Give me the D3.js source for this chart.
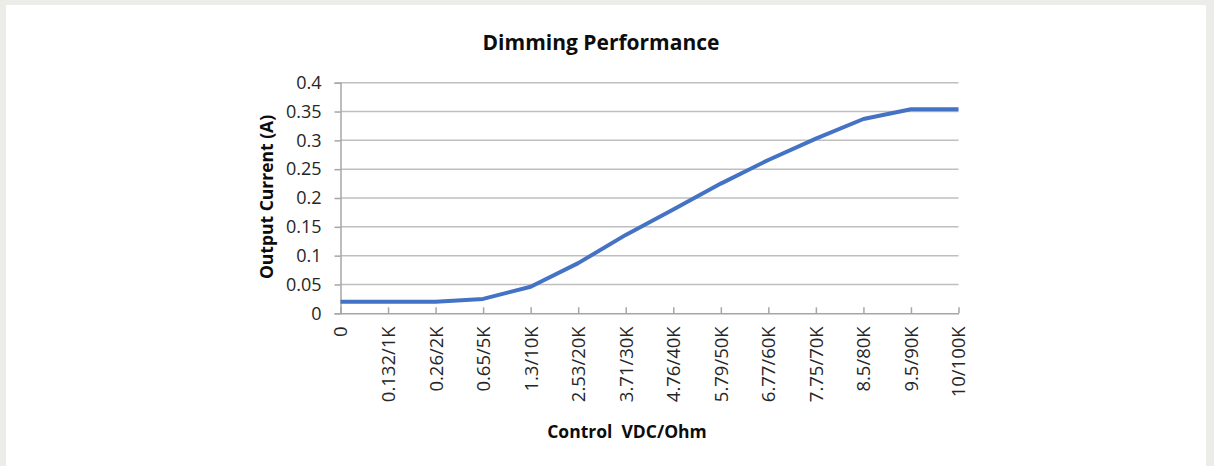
<!DOCTYPE html>
<html>
<head>
<meta charset="utf-8">
<script src="https://cdn.jsdelivr.net/npm/d3@7"></script>
<style>
  html, body { margin: 0; padding: 0; background: #ecece8; }
  text { font-family: "Open Sans", "Noto Sans", sans-serif; }
</style>
</head>
<body>
<div id="chart"></div>
<script>
// Data
var categories = ["0", "0.132/1K", "0.26/2K", "0.65/5K", "1.3/10K", "2.53/20K", "3.71/30K",
                  "4.76/40K", "5.79/50K", "6.77/60K", "7.75/70K", "8.5/80K", "9.5/90K", "10/100K"];
var outputCurrent = [0.02, 0.02, 0.02, 0.025, 0.046, 0.087, 0.136,
                     0.18, 0.225, 0.266, 0.303, 0.337, 0.354, 0.354];
var yTicks = [0, 0.05, 0.1, 0.15, 0.2, 0.25, 0.3, 0.35, 0.4];

var svgWidth = 1214;
var svgHeight = 466;
var plotLeft = 340.5, plotRight = 958.5, plotTop = 82.7, plotBottom = 313.3;

var svg = d3.select("#chart")
            .append("svg")
            .attr("width", svgWidth)
            .attr("height", svgHeight)
            .style("display", "block");

// panel
svg.append("rect")
   .attr("x", 0).attr("y", 0)
   .attr("width", svgWidth).attr("height", svgHeight)
   .attr("fill", "#ecece8");
svg.append("rect")
   .attr("x", 6).attr("y", 5)
   .attr("width", 1200).attr("height", svgHeight - 5)
   .attr("fill", "#ffffff");

// scales
var xScale = d3.scalePoint()
               .domain(categories)
               .range([plotLeft, plotRight])
               .padding(0);

var yScale = d3.scaleLinear()
               .domain([0, 0.4])
               .range([plotBottom, plotTop]);

// gridlines
svg.append("g")
   .selectAll("line")
   .data(yTicks.slice(1))
   .enter()
   .append("line")
   .attr("x1", plotLeft)
   .attr("x2", plotRight)
   .attr("y1", function(d) { return yScale(d); })
   .attr("y2", function(d) { return yScale(d); })
   .attr("stroke", "#bfbfbf")
   .attr("stroke-width", 1.5);

// y axis
var yAxis = svg.append("g")
   .attr("transform", "translate(" + plotLeft + ",0)")
   .call(d3.axisLeft(yScale)
           .tickValues(yTicks)
           .tickSize(6)
           .tickPadding(13)
           .tickFormat(function(d) { return String(d); }));
yAxis.select(".domain").attr("stroke", "#a6a6a6").attr("stroke-width", 1.5);
yAxis.selectAll(".tick line").attr("stroke", "#a6a6a6").attr("stroke-width", 1.5);
yAxis.selectAll(".tick text")
     .attr("font-family", "Open Sans")
     .attr("font-size", "18px")
     .attr("fill", "#262626");

// x axis (ticks point inward)
var xAxis = svg.append("g")
   .attr("transform", "translate(0," + plotBottom + ")")
   .call(d3.axisBottom(xScale).tickSize(-6).tickSizeOuter(0));
xAxis.select(".domain").attr("stroke", "#a6a6a6").attr("stroke-width", 1.5);
xAxis.selectAll(".tick line").attr("stroke", "#a6a6a6").attr("stroke-width", 1.5);
xAxis.selectAll(".tick text")
     .attr("font-family", "Open Sans")
     .attr("font-size", "18.5px")
     .attr("fill", "#262626")
     .attr("text-anchor", "end")
     .attr("transform", "rotate(-90)")
     .attr("x", -13)
     .attr("y", 0)
     .attr("dy", "0.35em");

// line
var line = d3.line()
             .x(function(d, i) { return xScale(categories[i]); })
             .y(function(d) { return yScale(d); });

svg.append("path")
   .datum(outputCurrent)
   .attr("d", line)
   .attr("fill", "none")
   .attr("stroke", "#4472c4")
   .attr("stroke-width", 4)
   .attr("stroke-linejoin", "round");

// titles
svg.append("text")
   .attr("x", 601)
   .attr("y", 50)
   .attr("text-anchor", "middle")
   .attr("font-size", "21px")
   .attr("font-weight", "bold")
   .attr("fill", "#0d0d0d")
   .text("Dimming Performance");

svg.append("text")
   .attr("transform", "translate(273,197) rotate(-90)")
   .attr("text-anchor", "middle")
   .attr("font-size", "17.5px")
   .attr("font-weight", "bold")
   .attr("fill", "#0d0d0d")
   .text("Output Current (A)");

svg.append("text")
   .attr("x", 627)
   .attr("y", 438)
   .attr("text-anchor", "middle")
   .attr("font-size", "17.5px")
   .attr("font-weight", "bold")
   .attr("fill", "#0d0d0d")
   .attr("xml:space", "preserve")
   .style("white-space", "pre")
   .text("Control  VDC/Ohm");
</script>
</body>
</html>
